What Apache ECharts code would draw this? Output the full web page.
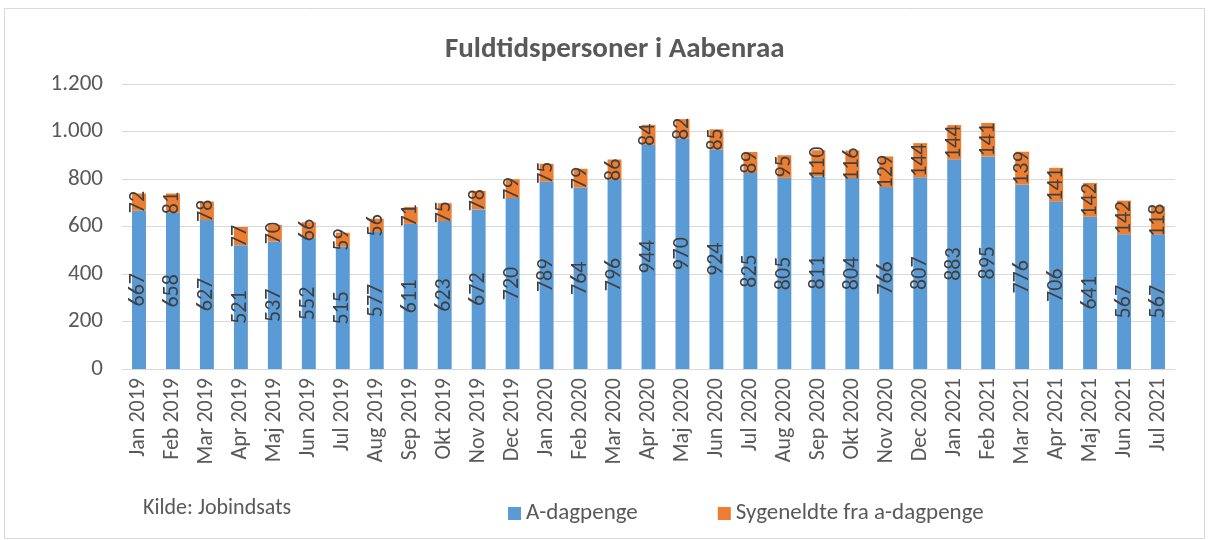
<!DOCTYPE html>
<html>
<head>
<meta charset="utf-8">
<script src="https://cdn.jsdelivr.net/npm/echarts@6/dist/echarts.min.js"></script>
<style>
  html, body { margin: 0; padding: 0; background: #fff; }
  #chart { width: 1210px; height: 540px; }
</style>
</head>
<body>
<div id="chart"></div>
<script>
// maaneder
const months = [
  "Jan 2019", "Feb 2019", "Mar 2019", "Apr 2019", "Maj 2019", "Jun 2019", "Jul 2019",
  "Aug 2019", "Sep 2019", "Okt 2019", "Nov 2019", "Dec 2019",
  "Jan 2020", "Feb 2020", "Mar 2020", "Apr 2020", "Maj 2020", "Jun 2020", "Jul 2020",
  "Aug 2020", "Sep 2020", "Okt 2020", "Nov 2020", "Dec 2020",
  "Jan 2021", "Feb 2021", "Mar 2021", "Apr 2021", "Maj 2021", "Jun 2021", "Jul 2021"
];
// A-dagpenge
const aDagpenge = [
  667, 658, 627, 521, 537, 552, 515, 577, 611, 623, 672, 720,
  789, 764, 796, 944, 970, 924, 825, 805, 811, 804, 766, 807,
  883, 895, 776, 706, 641, 567, 567
];
// Sygeneldte fra a-dagpenge
const sygeneldte = [
  72, 81, 78, 77, 70, 66, 59, 56, 71, 75, 78, 79,
  75, 79, 86, 84, 82, 85, 89, 95, 110, 116, 129, 144,
  144, 141, 139, 141, 142, 142, 118
];

const font = "Calibri, Carlito, 'Open Sans', sans-serif";
const textColor = "#595959";

const myChart = echarts.init(document.getElementById("chart"));

function valueLabel() {
  return {
    show: true,
    position: "inside",
    rotate: 90,
    color: "#404040",
    fontSize: 22,
    fontFamily: font,
  };
}

const option = {
  animation: false,
  title: {
    text: "Fuldtidspersoner i Aabenraa",
    left: 440,
    top: 30,
    textStyle: { color: textColor, fontSize: 29, fontWeight: "bold", fontFamily: font },
  },
  grid: { left: 122, right: 35, top: 84, bottom: 171 },
  legend: {
    left: 503,
    top: 497,
    icon: "rect",
    itemWidth: 13,
    itemHeight: 13,
    itemGap: 80,
    textStyle: { color: textColor, fontSize: 23, fontFamily: font },
    data: ["A-dagpenge", "Sygeneldte fra a-dagpenge"],
  },
  graphic: [
    {
      type: "text",
      left: 143,
      top: 497,
      style: { text: "Kilde: Jobindsats", fill: textColor, fontSize: 22, fontFamily: font },
    },
    {
      type: "rect",
      shape: { x: 4.5, y: 8.5, width: 1200, height: 530 },
      style: { fill: "none", stroke: "#D9D9D9", lineWidth: 1 },
      silent: true,
    },
  ],
  xAxis: {
    type: "category",
    data: months,
    axisLine: { show: true, lineStyle: { color: "#D9D9D9" } },
    axisTick: { show: false },
    axisLabel: { rotate: 90, color: textColor, fontSize: 22, fontFamily: font, interval: 0, margin: 9 },
  },
  yAxis: {
    type: "value",
    min: 0,
    max: 1200,
    interval: 200,
    axisLine: { show: false },
    axisTick: { show: false },
    splitLine: { lineStyle: { color: "#D9D9D9", width: 1 } },
    axisLabel: {
      color: textColor,
      fontSize: 23,
      fontFamily: font,
      margin: 19,
      formatter: (v) => String(v).replace(/\B(?=(\d{3})+(?!\d))/g, "."),
    },
  },
  series: [
    {
      name: "A-dagpenge",
      type: "bar",
      stack: "total",
      data: aDagpenge,
      barWidth: "41%",
      itemStyle: { color: "#5B9BD5" },
      label: valueLabel(),
    },
    {
      name: "Sygeneldte fra a-dagpenge",
      type: "bar",
      stack: "total",
      data: sygeneldte,
      barWidth: "41%",
      itemStyle: { color: "#ED7D31" },
      label: valueLabel(),
    },
  ],
};

myChart.setOption(option);
</script>
</body>
</html>
